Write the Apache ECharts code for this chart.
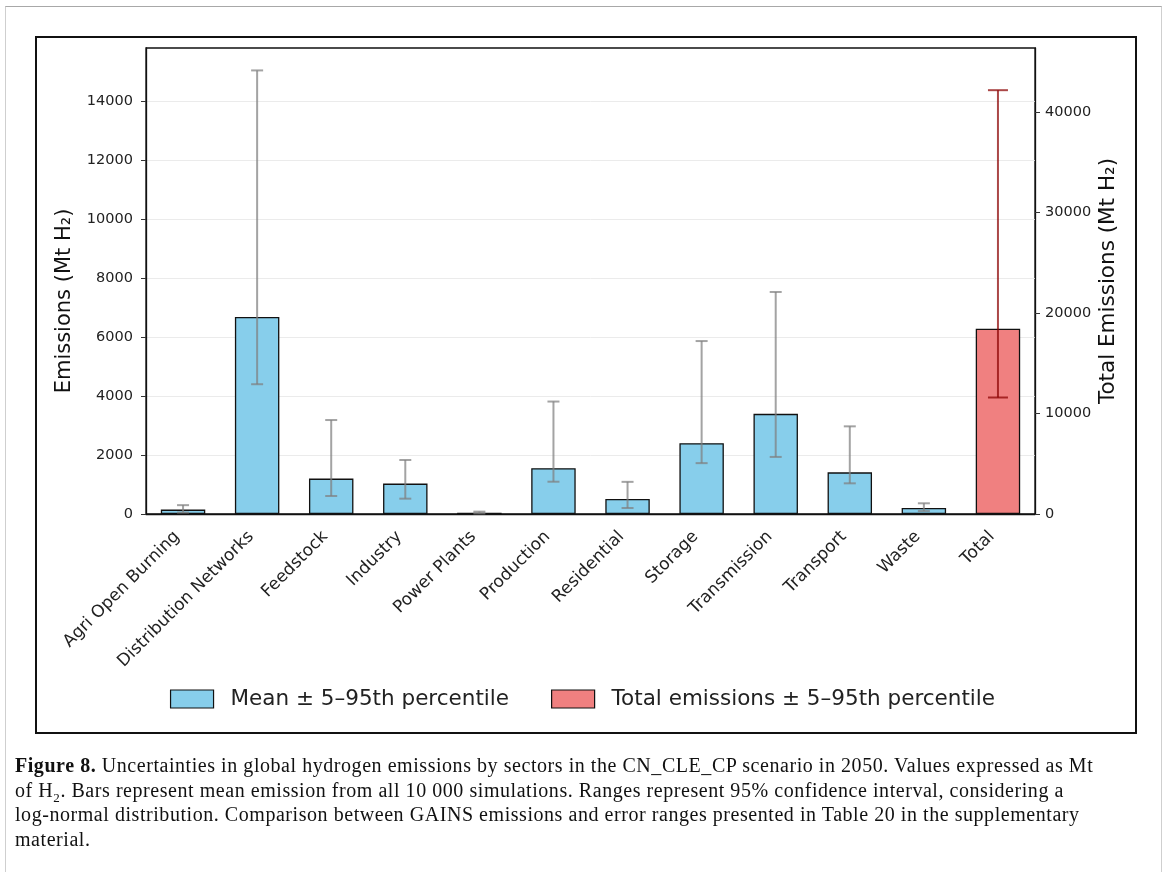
<!DOCTYPE html>
<html>
<head>
<meta charset="utf-8">
<script src="https://cdn.jsdelivr.net/npm/echarts@6/dist/echarts.min.js"></script>
<style>
  html, body { margin: 0; padding: 0; background: #fff; }
  #page { position: relative; width: 1165px; height: 872px; overflow: hidden; }
  #pageBorder { position: absolute; left: 5px; top: 6px; width: 1155px; height: 900px;
    border-top: 1px solid #a8a8a8; border-left: 1px solid #cfcfcf; border-right: 1px solid #cfcfcf; }
  #frame { position: absolute; left: 35px; top: 36px; width: 1098px; height: 694px; border: 2px solid #111; }
  #chart { position: absolute; left: 0; top: 0; width: 1165px; height: 872px; }
  #caption { position: absolute; left: 15px; top: 753px; width: 1145px; white-space: nowrap;
    font-family: "Liberation Serif", "DejaVu Serif", serif; font-size: 20px; letter-spacing: 0.55px; line-height: 24.5px; color: #111; }
  #caption sub { font-size: 13px; line-height: 0; }
</style>
</head>
<body>
<div id="page">
  <div id="pageBorder"></div>
  <div id="frame"></div>
  <div id="chart"></div>
  <div id="caption"><b>Figure 8.</b> Uncertainties in global hydrogen emissions by sectors in the CN_CLE_CP scenario in 2050. Values expressed as Mt<br>of H<sub>2</sub>. Bars represent mean emission from all 10 000 simulations. Ranges represent 95% confidence interval, considering a<br>log-normal distribution. Comparison between GAINS emissions and error ranges presented in Table 20 in the supplementary<br>material.</div>
</div>
<script>
// ---- data ----
const categories = ["Agri Open Burning", "Distribution Networks", "Feedstock", "Industry", "Power Plants",
  "Production", "Residential", "Storage", "Transmission", "Transport", "Waste", "Total"];
const sectorMean = [150, 6680, 1200, 1030, 45, 1555, 510, 2400, 3395, 1413, 203];
const sectorLow  = [50, 4400, 610, 520, 20, 1095, 204, 1725, 1935, 1040, 100];
const sectorHigh = [300, 15040, 3186, 1830, 80, 3813, 1090, 5864, 7528, 2972, 363];
const totalMean = 18450;
const totalLow = 11600;
const totalHigh = 42200;
const leftTicks = [0, 2000, 4000, 6000, 8000, 10000, 12000, 14000];
const rightTicks = [0, 10000, 20000, 30000, 40000];
const legendNames = ["Mean \u00b1 5\u201395th percentile", "Total emissions \u00b1 5\u201395th percentile"];

// ---- build ----
const nSec = sectorMean.length;
const blueData = categories.map((c, i) => i < nSec ? sectorMean[i] : '-');
const redData = categories.map((c, i) => i === nSec ? totalMean : '-');
const blueErr = sectorMean.map((v, i) => [i, sectorLow[i], sectorHigh[i]]);
const redErr = [[nSec, totalLow, totalHigh]];

function errRenderer(capW, color) {
  return function (params, api) {
    const x = api.value(0);
    const lo = api.coord([x, api.value(1)]);
    const hi = api.coord([x, api.value(2)]);
    const h = capW / 2;
    const style = { stroke: color, lineWidth: 2 };
    return {
      type: 'group',
      children: [
        { type: 'line', shape: { x1: lo[0], y1: lo[1], x2: hi[0], y2: hi[1] }, style },
        { type: 'line', shape: { x1: hi[0] - h, y1: hi[1], x2: hi[0] + h, y2: hi[1] }, style },
        { type: 'line', shape: { x1: lo[0] - h, y1: lo[1], x2: lo[0] + h, y2: lo[1] }, style }
      ]
    };
  };
}

const FONT = 'DejaVu Sans';
const plain = v => String(v);
const chart = echarts.init(document.getElementById('chart'), null, { renderer: 'canvas' });
chart.setOption({
  animation: false,
  textStyle: { fontFamily: FONT },
  grid: { left: 146, right: 130, top: 48, bottom: 358, show: true, borderColor: '#111', borderWidth: 1.3, backgroundColor: 'transparent' },
  legend: {
    bottom: 157, left: 'center', itemWidth: 43, itemHeight: 18, itemGap: 42,
    icon: 'rect',
    textStyle: { fontSize: 21.5, color: '#222', fontFamily: FONT, padding: [0, 0, 0, 12] },
    data: [
      { name: legendNames[0], itemStyle: { color: '#87CEEB', borderColor: '#111', borderWidth: 1.2 } },
      { name: legendNames[1], itemStyle: { color: '#F08080', borderColor: '#111', borderWidth: 1.2 } }
    ]
  },
  xAxis: {
    type: 'category', data: categories, boundaryGap: true,
    axisLine: { lineStyle: { color: '#111', width: 1.3 } },
    axisTick: { alignWithLabel: true, length: 6, lineStyle: { color: '#333', width: 1.2 } },
    axisLabel: { rotate: 45, fontSize: 17, color: '#222', margin: 26, verticalAlign: 'bottom', interval: 0, fontFamily: FONT }
  },
  yAxis: [
    {
      type: 'value', min: 0, max: 15800, interval: 2000, position: 'left',
      axisLine: { show: true, lineStyle: { color: '#111', width: 1.3 } },
      axisTick: { show: true, length: 5, customValues: leftTicks, lineStyle: { color: '#333' } },
      axisLabel: { fontSize: 14.5, color: '#222', margin: 13, customValues: leftTicks, formatter: plain, fontFamily: FONT },
      splitLine: { show: true, lineStyle: { color: '#ebebeb', width: 1 } }
    },
    {
      type: 'value', min: 0, max: 46400, interval: 10000, position: 'right',
      axisLine: { show: true, lineStyle: { color: '#111', width: 1.3 } },
      axisTick: { show: true, length: 5, customValues: rightTicks, lineStyle: { color: '#333' } },
      axisLabel: { fontSize: 14.5, color: '#222', margin: 10, customValues: rightTicks, formatter: plain, fontFamily: FONT },
      splitLine: { show: false }
    }
  ],
  graphic: [
    { type: 'text', x: 65, y: 301, rotation: Math.PI / 2,
      style: { text: 'Emissions (Mt H\u2082)', fontSize: 21, fontFamily: FONT, fill: '#111', align: 'center', verticalAlign: 'middle' } },
    { type: 'text', x: 1108, y: 281, rotation: Math.PI / 2,
      style: { text: 'Total Emissions (Mt H\u2082)', fontSize: 21.5, fontFamily: FONT, fill: '#111', align: 'center', verticalAlign: 'middle' } }
  ],
  series: [
    { name: legendNames[0], type: 'bar', data: blueData, yAxisIndex: 0, barWidth: '60%', barGap: '-100%',
      itemStyle: { color: '#87CEEB', borderColor: '#111', borderWidth: 1.3 } },
    { name: legendNames[1], type: 'bar', data: redData, yAxisIndex: 1, barWidth: '60%', barGap: '-100%',
      itemStyle: { color: '#F08080', borderColor: '#111', borderWidth: 1.3 } },
    { type: 'custom', name: 'errBlue', yAxisIndex: 0, data: blueErr, z: 5,
      encode: { x: 0, y: [1, 2] }, renderItem: errRenderer(12, 'rgba(128,128,128,0.72)') },
    { type: 'custom', name: 'errRed', yAxisIndex: 1, data: redErr, z: 5,
      encode: { x: 0, y: [1, 2] }, renderItem: errRenderer(20, 'rgba(139,0,0,0.72)') }
  ]
});
</script>
</body>
</html>
